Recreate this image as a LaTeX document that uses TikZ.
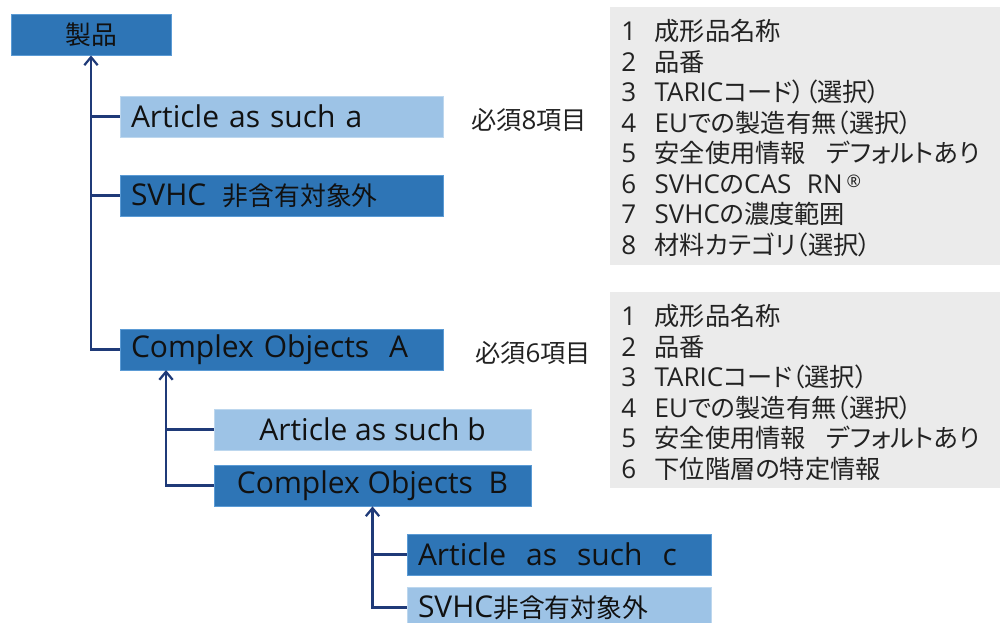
\documentclass[tikz,border=0pt]{standalone}
\usepackage{fontspec}
\setmainfont{Open Sans}
\newfontfamily\jpL{Noto Sans CJK JP}[Scale=0.97, RawFeature=+palt]
\newfontfamily\jpB{Noto Sans CJK JP}[Scale=0.86]
\usetikzlibrary{arrows.meta}
\definecolor{dkblue}{HTML}{2E75B6}
\definecolor{ltblue}{HTML}{9DC3E6}
\definecolor{edgedk}{HTML}{5B9BD5}
\definecolor{edgelt}{HTML}{BDD7EE}
\definecolor{navy}{HTML}{1F3A78}
\definecolor{listgray}{HTML}{EBEBEB}
\definecolor{txt}{HTML}{111111}
\definecolor{ltxt}{HTML}{222222}
\newcommand\bfnt{\fontsize{22.5pt}{27pt}\selectfont}
\newcommand\lfnt{\fontsize{19.5pt}{22.93pt}\selectfont}
\newcommand\JB[1]{{\jpB #1}}
\newcommand\JL[1]{{\jpL #1}}
\newcommand\num[1]{\makebox[25pt][l]{#1}}
\newcommand\regmark{\hspace{3pt}\raisebox{4.3pt}{\fontsize{13pt}{13pt}\selectfont ®}}
\tikzset{
  box/.style={rectangle, inner sep=0pt, minimum height=30.75pt, text=txt, font=\bfnt, line width=0.6pt},
  dk/.style={box, fill=dkblue, draw=edgedk},
  lt/.style={box, fill=ltblue, draw=edgelt},
  wide/.style={minimum width=242.25pt},
  mid/.style={minimum width=237.75pt},
  narrow/.style={minimum width=228pt},
  leftw/.style={inner xsep=8.25pt, text width=#1, align=left},
  conn/.style={draw=navy, line width=1.7pt},
  arr/.style={conn, -{Straight Barb[length=6pt, width=10pt, line width=1.7pt]}},
  lbl/.style={font=\lfnt, text=ltxt, inner sep=0pt},
  listtxt/.style={font=\lfnt, text=ltxt, align=left, anchor=north west, inner sep=0pt}
}
\begin{document}
\begin{tikzpicture}[x=0.75pt, y=-0.75pt]
\useasboundingbox (0,0) rectangle (1000,622);
\clip (0,0) rectangle (1000,622);
% gray list panels
\fill[listgray] (610,7) rectangle (1000,265);
\fill[listgray] (610,292) rectangle (1000,488);
% boxes
\node[dk, minimum width=120pt] (prod) at (91,34.5) {\JB{製品}};
\node[lt, wide, leftw=225.75pt] (aa) at (281.5,116.5) {Article as such a};
\node[dk, wide, leftw=225.75pt] (sv1) at (281.5,195.5) {SVHC\hspace{0.55em}\JB{非含有対象外}};
\node[dk, wide, leftw=225.75pt] (ca) at (281.5,349.5) {Complex Objects\ \ A};
\node[lt, mid] (ab) at (372.5,429.5) {Article as such b};
\node[dk, mid] (cb) at (372.5,485.5) {Complex Objects\ \ B};
\node[dk, narrow, leftw=211.5pt] (ac) at (559,554.5) {Article\ \ as\ \ such\ \ c};
\node[lt, narrow, leftw=211.5pt] (sv2) at (559,607.5) {SVHC\JB{非含有対象外}};
\coordinate (ja) at (166,370);
% connectors
\draw[arr] (ca.west) -| (prod.south);
\draw[conn] (aa.west) -- (aa.west -| prod.south);
\draw[conn] (sv1.west) -- (sv1.west -| prod.south);
\draw[arr] (cb.west) -| (ja);
\draw[conn] (ab.west) -- (ab.west -| ja);
\draw[arr] (sv2.west) -| (cb.south);
\draw[conn] (ac.west) -- (ac.west -| cb.south);
% labels
\node[lbl] (l8) at (529,120) {\JL{必須}8\JL{項目}};
\node[lbl] (l6) at (533,353) {\JL{必須}6\JL{項目}};
% lists
\node[listtxt] (list1) at (621,19) {%
\num{1}\JL{成形品名称}\\
\num{2}\JL{品番}\\
\num{3}TARIC\JL{コード）（選択）}\\
\num{4}EU\JL{での製造有無（選択）}\\
\num{5}\JL{安全使用情報}\hspace{0.8em}\JL{デフォルトあり}\\
\num{6}SVHC\JL{の}CAS\hspace{0.6em}RN\regmark\\
\num{7}SVHC\JL{の濃度範囲}\\
\num{8}\JL{材料カテゴリ（選択）}};
\node[listtxt] (list2) at (621,304) {%
\num{1}\JL{成形品名称}\\
\num{2}\JL{品番}\\
\num{3}TARIC\JL{コード（選択）}\\
\num{4}EU\JL{での製造有無（選択）}\\
\num{5}\JL{安全使用情報}\hspace{0.8em}\JL{デフォルトあり}\\
\num{6}\JL{下位階層の特定情報}};
\end{tikzpicture}
\end{document}
